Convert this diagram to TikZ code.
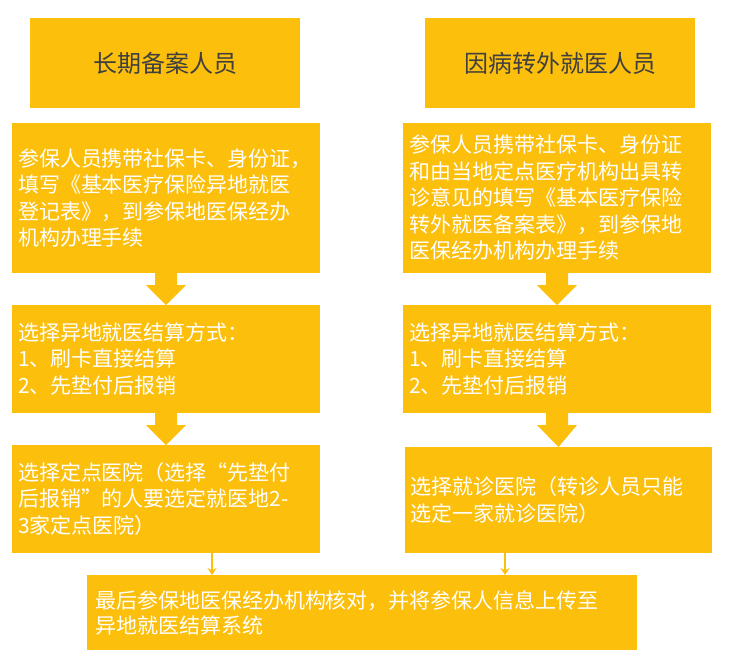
\documentclass[tikz,border=0pt]{standalone}
\usepackage{fontspec}
\setmainfont{Noto Sans CJK SC}
\usetikzlibrary{positioning,calc,arrows.meta}
\definecolor{boxyellow}{HTML}{FCBF0C}
\definecolor{titlegray}{HTML}{3F3F3F}
\begin{document}
\begin{tikzpicture}[x=1pt,y=-1pt,>=stealth,
  every node/.append style={inner sep=0pt,outer sep=0pt},
  titlebox/.style={fill=boxyellow, minimum width=270pt, minimum height=90pt, text=titlegray, font=\fontsize{24}{28}\selectfont},
  stepbox/.style={fill=boxyellow, minimum width=308pt, text=white, align=left, text width=296pt, font=\fontsize{21}{26.5}\selectfont},
  finalbox/.style={fill=boxyellow, minimum width=550pt, minimum height=75pt, text=white, align=left, text width=534pt, font=\fontsize{21}{25}\selectfont},
  thin/.style={-{Stealth[length=7pt,width=9pt]}, boxyellow, line width=1.5pt}]
  \useasboundingbox (0,0) rectangle (731,665);
  \node [titlebox] (t1) at (165,63) {长期备案人员};
  \node [titlebox] (t2) at (560,63) {因病转外就医人员};
  \node [stepbox, minimum height=150pt] (l1) at (166,198) {参保人员携带社保卡、身份证，\\填写《基本医疗保险异地就医\\登记表》，到参保地医保经办\\机构办理手续};
  \node [stepbox, minimum height=150pt] (r1) at (557,198) {参保人员携带社保卡、身份证\\和由当地定点医疗机构出具转\\诊意见的填写《基本医疗保险\\转外就医备案表》，到参保地\\医保经办机构办理手续};
  \node [stepbox, minimum height=108pt] (l2) at (166,359) {选择异地就医结算方式：\\1、刷卡直接结算\\2、先垫付后报销};
  \node [stepbox, minimum height=108pt] (r2) at (557,359) {选择异地就医结算方式：\\1、刷卡直接结算\\2、先垫付后报销};
  \node [stepbox, minimum height=108pt] (l3) at (166,499) {选择定点医院（选择“先垫付\\后报销”的人要选定就医地2-\\3家定点医院）};
  \node [stepbox, minimum height=106pt, minimum width=307pt] (r3) at (558.5,500) {选择就诊医院（转诊人员只能\\选定一家就诊医院）};
  \node [finalbox] (fin) at (362,612.5) {最后参保地医保经办机构核对，并将参保人信息上传至\\异地就医结算系统};
  % block arrows
  \foreach \a/\b in {l1/l2,r1/r2,l2/l3,r2/r3}
    \fill [boxyellow] ($(\a.south)+(-11,0)$) -- ($(\a.south)+(-11,12)$) -- ($(\a.south)+(-20,12)$)
      -- (\b.north) -- ($(\a.south)+(20,12)$) -- ($(\a.south)+(11,12)$) -- ($(\a.south)+(11,0)$) -- cycle;
  \draw [thin] (l3.south -| 212,0) -- (fin.north -| 212,0);
  \draw [thin] (r3.south -| 505,0) -- (fin.north -| 505,0);
\end{tikzpicture}
\end{document}
